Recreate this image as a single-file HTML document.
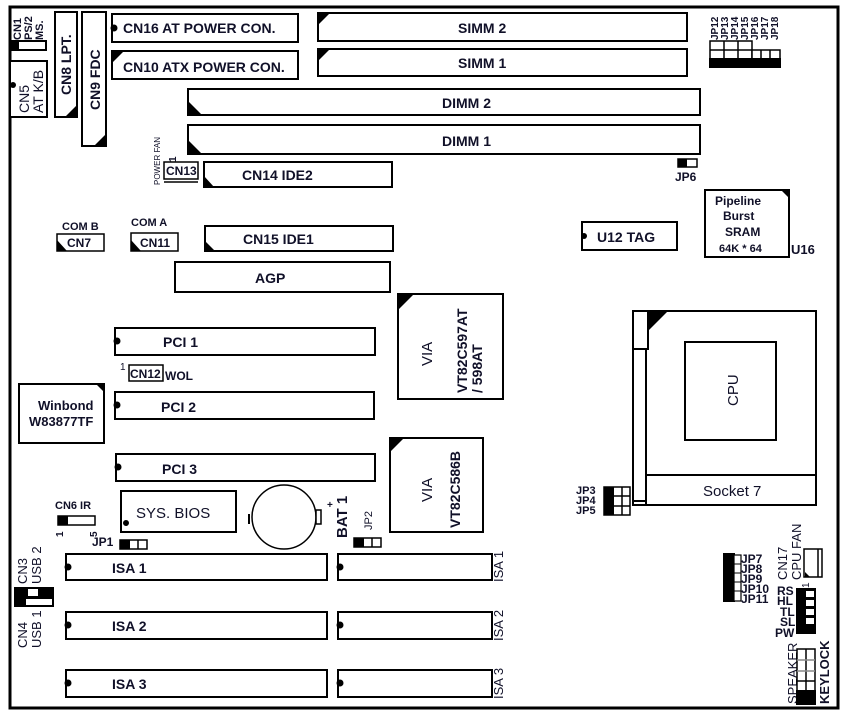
<!DOCTYPE html>
<html><head><meta charset="utf-8"><style>
html,body{margin:0;padding:0;background:#fff;width:846px;height:722px;overflow:hidden}
svg{display:block}
text{font-family:"Liberation Sans",Arial,sans-serif;font-weight:bold;fill:#101028}
.b{fill:#fff;stroke:#000;stroke-width:2}
.k{fill:#000}
.t14{font-size:14px}
.t12{font-size:12px}
.t11{font-size:11px}
.t10{font-size:10px}
.n{font-weight:normal}
</style></head><body>
<svg width="846" height="722" viewBox="0 0 846 722" xmlns="http://www.w3.org/2000/svg">
<rect x="10" y="7" width="828" height="701" fill="#fff" stroke="#000" stroke-width="3"/>

<text class="t11" transform="translate(21,40) rotate(-90)">CN1</text>
<text class="t11" transform="translate(32,40) rotate(-90)">PS/2</text>
<text class="t11" transform="translate(43,40) rotate(-90)">MS.</text>
<rect class="b" x="11" y="41" width="35" height="9"/>
<rect class="k" x="11" y="41" width="8" height="9"/>
<rect class="b" x="10" y="61" width="37" height="56"/>
<circle class="k" cx="13" cy="85" r="3"/>
<text class="t14 n" transform="translate(29,113) rotate(-90)">CN5</text>
<text class="t14 n" transform="translate(43,113) rotate(-90)">AT K/B</text>
<rect class="b" x="55" y="12" width="22" height="105"/>
<polygon class="k" points="77,105 77,117 65,117"/>
<text class="t14" transform="translate(71,95) rotate(-90)">CN8 LPT.</text>
<rect class="b" x="82" y="12" width="24" height="134"/>
<polygon class="k" points="106,134 106,146 94,146"/>
<text class="t14" transform="translate(100,110) rotate(-90)">CN9 FDC</text>
<rect class="b" x="112" y="14" width="186" height="28"/>
<circle class="k" cx="114" cy="28" r="3.5"/>
<text class="t14" x="123" y="33">CN16 AT POWER CON.</text>
<rect class="b" x="112" y="51" width="186" height="28"/>
<polygon class="k" points="112,51 124,51 112,63"/>
<text class="t14" x="123" y="72">CN10 ATX POWER CON.</text>
<rect class="b" x="318" y="13" width="369" height="28"/>
<polygon class="k" points="318,13 330,13 318,25"/>
<text class="t14" x="458" y="33">SIMM 2</text>
<rect class="b" x="318" y="49" width="369" height="27"/>
<polygon class="k" points="318,49 330,49 318,61"/>
<text class="t14" x="458" y="68">SIMM 1</text>
<rect class="b" x="188" y="89" width="512" height="26"/>
<polygon class="k" points="188,101 188,115 202,115"/>
<text class="t14" x="442" y="108">DIMM 2</text>
<rect class="b" x="188" y="125" width="512" height="29"/>
<polygon class="k" points="188,140 188,154 202,154"/>
<text class="t14" x="442" y="146">DIMM 1</text>
<text class="t10" transform="translate(718,40) rotate(-90)">JP12</text>
<text class="t10" transform="translate(728,40) rotate(-90)">JP13</text>
<text class="t10" transform="translate(738,40) rotate(-90)">JP14</text>
<text class="t10" transform="translate(748,40) rotate(-90)">JP15</text>
<text class="t10" transform="translate(758,40) rotate(-90)">JP16</text>
<text class="t10" transform="translate(768,40) rotate(-90)">JP17</text>
<text class="t10" transform="translate(778,40) rotate(-90)">JP18</text>
<rect class="b" x="710" y="41" width="42" height="18" style="stroke-width:1.5"/>
<line x1="724" y1="41" x2="724" y2="59" stroke="#000" stroke-width="1.5"/>
<line x1="738" y1="41" x2="738" y2="59" stroke="#000" stroke-width="1.5"/>
<line x1="710" y1="50" x2="752" y2="50" stroke="#000" stroke-width="1.5"/>
<rect class="b" x="752" y="50" width="28" height="9" style="stroke-width:1.5"/>
<line x1="761" y1="50" x2="761" y2="59" stroke="#000" stroke-width="1.5"/>
<line x1="770" y1="50" x2="770" y2="59" stroke="#000" stroke-width="1.5"/>
<rect class="k" x="709" y="58" width="72" height="10"/>
<rect class="b" x="678" y="159" width="19" height="8" style="stroke-width:1.5"/>
<rect class="k" x="678" y="159" width="9" height="8"/>
<text class="t12" x="675" y="181">JP6</text>
<rect class="b" x="705" y="190" width="84" height="67"/>
<polygon class="k" points="781,190 789,190 789,198"/>
<text class="t12" x="715" y="205">Pipeline</text>
<text class="t12" x="723" y="220">Burst</text>
<text class="t12" x="725" y="236">SRAM</text>
<text class="t11" x="719" y="252">64K * 64</text>
<text x="791" y="254" style="font-size:13px">U16</text>
<text transform="translate(160,185) rotate(-90)" style="font-size:8px;font-weight:normal">POWER FAN</text>
<text class="t10" transform="translate(176,162) rotate(-90)">1</text>
<rect class="b" x="164" y="162" width="34" height="17" style="stroke-width:1.5"/>
<line x1="164" y1="182" x2="198" y2="182" stroke="#000" stroke-width="1.5"/>
<text class="t12" x="166" y="175">CN13</text>
<rect class="b" x="204" y="162" width="188" height="25"/>
<polygon class="k" points="204,176 204,187 214,187"/>
<text class="t14" x="242" y="180">CN14 IDE2</text>
<text class="t11" x="62" y="230">COM B</text>
<rect class="b" x="57" y="234" width="47" height="17" style="stroke-width:1.5"/>
<polygon class="k" points="57,240 57,251 67,251"/>
<text class="t12" x="67" y="247">CN7</text>
<text class="t11" x="131" y="226">COM A</text>
<rect class="b" x="131" y="233" width="47" height="18" style="stroke-width:1.5"/>
<polygon class="k" points="131,240 131,251 141,251"/>
<text class="t12" x="140" y="247">CN11</text>
<rect class="b" x="205" y="226" width="188" height="25"/>
<polygon class="k" points="205,241 205,251 215,251"/>
<text class="t14" x="243" y="244">CN15 IDE1</text>
<rect class="b" x="582" y="222" width="95" height="28"/>
<circle class="k" cx="584" cy="236" r="3"/>
<text class="t14" x="597" y="242">U12 TAG</text>
<rect class="b" x="175" y="262" width="215" height="30"/>
<text class="t14" x="255" y="283">AGP</text>
<rect class="b" x="398" y="294" width="105" height="105"/>
<polygon class="k" points="398,294 414,294 398,310"/>
<text transform="translate(432,366) rotate(-90)" style="font-weight:normal;font-size:15px">VIA</text>
<text class="t14" transform="translate(467,393) rotate(-90)">VT82C597AT</text>
<text class="t14" transform="translate(482,393) rotate(-90)">/ 598AT</text>
<rect class="b" x="115" y="328" width="260" height="27"/>
<circle class="k" cx="117" cy="341" r="3.5"/>
<text class="t14" x="163" y="347">PCI 1</text>
<text class="t10 n" x="120" y="370">1</text>
<rect class="b" x="129" y="365" width="34" height="16" style="stroke-width:1.5"/>
<text class="t12" x="130" y="378">CN12</text>
<text class="t12" x="165" y="380">WOL</text>
<rect class="b" x="115" y="392" width="259" height="27"/>
<circle class="k" cx="117" cy="405" r="3.5"/>
<text class="t14" x="161" y="412">PCI 2</text>
<rect class="b" x="116" y="454" width="259" height="27"/>
<circle class="k" cx="118" cy="467" r="3.5"/>
<text class="t14" x="162" y="474">PCI 3</text>
<rect class="b" x="19" y="384" width="85" height="59"/>
<polygon class="k" points="96,384 104,384 104,392"/>
<text x="38" y="410" style="font-size:13px">Winbond</text>
<text x="29" y="426" style="font-size:13px">W83877TF</text>
<rect class="b" x="390" y="438" width="93" height="94"/>
<polygon class="k" points="390,438 404,438 390,452"/>
<text transform="translate(432,502) rotate(-90)" style="font-size:15px;font-weight:normal">VIA</text>
<text class="t14" transform="translate(460,528) rotate(-90)">VT82C586B</text>
<rect class="b" x="633" y="311" width="183" height="194"/>
<rect class="b" x="633" y="311" width="15" height="38"/>
<rect class="b" x="633" y="349" width="13" height="152"/>
<polygon class="k" points="648,311 668,311 648,331"/>
<rect class="b" x="685" y="342" width="91" height="98"/>
<text transform="translate(738,406) rotate(-90)" style="font-weight:normal;font-size:15px">CPU</text>
<rect class="b" x="646" y="475" width="170" height="30"/>
<text x="703" y="496" style="font-weight:normal;font-size:15px">Socket  7</text>
<text class="t11" x="576" y="494">JP3</text>
<text class="t11" x="576" y="504">JP4</text>
<text class="t11" x="576" y="514">JP5</text>
<rect class="b" x="604" y="487" width="26" height="28" style="stroke-width:1.5"/>
<rect class="k" x="604" y="487" width="10" height="28"/>
<line x1="622" y1="487" x2="622" y2="515" stroke="#000" stroke-width="1.5"/>
<line x1="604" y1="496" x2="630" y2="496" stroke="#000" stroke-width="1.5"/>
<line x1="604" y1="506" x2="630" y2="506" stroke="#000" stroke-width="1.5"/>
<text class="t11" x="55" y="509">CN6  IR</text>
<rect class="b" x="58" y="516" width="37" height="9" style="stroke-width:1.5"/>
<rect class="k" x="58" y="516" width="10" height="9"/>
<text class="t10" transform="translate(63,537) rotate(-90)">1</text>
<text class="t10" transform="translate(97,537) rotate(-90)">5</text>
<rect class="b" x="121" y="491" width="115" height="41"/>
<circle class="k" cx="126" cy="523" r="3"/>
<text x="136" y="518" style="font-weight:normal;font-size:15px">SYS.  BIOS</text>
<text class="t12" x="92" y="546">JP1</text>
<rect class="b" x="120" y="540" width="27" height="9" style="stroke-width:1.5"/>
<rect class="k" x="120" y="540" width="10" height="9"/>
<line x1="138" y1="540" x2="138" y2="549" stroke="#000" stroke-width="1.5"/>
<circle cx="284" cy="517" r="32" fill="#fff" stroke="#000" stroke-width="1.5"/>
<rect class="k" x="248" y="514" width="2" height="10"/>
<rect class="b" x="316" y="510" width="5" height="14" style="stroke-width:1.5"/>
<text class="t10" x="327" y="508">+</text>
<text transform="translate(347,538) rotate(-90)" style="font-size:15px">BAT 1</text>
<text class="t11" transform="translate(372,530) rotate(-90)" style="font-weight:normal">JP2</text>
<rect class="b" x="354" y="538" width="27" height="9" style="stroke-width:1.5"/>
<rect class="k" x="354" y="538" width="10" height="9"/>
<line x1="372" y1="538" x2="372" y2="547" stroke="#000" stroke-width="1.5"/>
<rect class="b" x="66" y="554" width="261" height="26"/>
<circle class="k" cx="68" cy="567" r="3.5"/>
<text class="t14" x="112" y="573">ISA 1</text>
<rect class="b" x="338" y="554" width="154" height="26"/>
<circle class="k" cx="340" cy="567" r="3.5"/>
<text transform="translate(503,582) rotate(-90)" style="font-weight:normal;font-size:13px">ISA 1</text>
<rect class="b" x="66" y="612" width="261" height="27"/>
<circle class="k" cx="68" cy="625" r="3.5"/>
<text class="t14" x="112" y="631">ISA 2</text>
<rect class="b" x="338" y="612" width="154" height="27"/>
<circle class="k" cx="340" cy="625" r="3.5"/>
<text transform="translate(503,641) rotate(-90)" style="font-weight:normal;font-size:13px">ISA 2</text>
<rect class="b" x="66" y="670" width="261" height="27"/>
<circle class="k" cx="68" cy="683" r="3.5"/>
<text class="t14" x="112" y="689">ISA 3</text>
<rect class="b" x="338" y="670" width="154" height="27"/>
<circle class="k" cx="340" cy="683" r="3.5"/>
<text transform="translate(503,699) rotate(-90)" style="font-weight:normal;font-size:13px">ISA 3</text>
<text transform="translate(27,584) rotate(-90)" style="font-weight:normal;font-size:13px">CN3</text>
<text transform="translate(41,584) rotate(-90)" style="font-weight:normal;font-size:13px">USB 2</text>
<rect class="k" x="14" y="587" width="40" height="20"/>
<rect x="26" y="599" width="26" height="6" fill="#fff"/>
<rect x="28" y="589" width="10" height="7" fill="#fff"/>
<text transform="translate(27,648) rotate(-90)" style="font-weight:normal;font-size:13px">CN4</text>
<text transform="translate(41,648) rotate(-90)" style="font-weight:normal;font-size:13px">USB 1</text>
<text transform="translate(787,580) rotate(-90)" style="font-weight:normal;font-size:13px">CN17</text>
<text transform="translate(801,580) rotate(-90)" style="font-weight:normal;font-size:13px">CPU FAN</text>
<rect class="b" x="804" y="549" width="18" height="28" style="stroke-width:1.5"/>
<line x1="818" y1="549" x2="818" y2="577" stroke="#000" stroke-width="1.5"/>
<polygon class="k" points="805,572 805,577 810,577"/>
<text class="t10 n" transform="translate(809,588) rotate(-90)">1</text>
<rect class="k" x="723" y="553" width="12" height="49"/>
<rect class="b" x="734" y="555" width="7" height="46" style="stroke-width:1.2"/>
<line x1="734" y1="564" x2="741" y2="564" stroke="#000"/><line x1="734" y1="573" x2="741" y2="573" stroke="#000"/>
<line x1="734" y1="582" x2="741" y2="582" stroke="#000"/><line x1="734" y1="591" x2="741" y2="591" stroke="#000"/>
<text class="t12" x="741" y="563">JP7</text>
<text class="t12" x="741" y="573">JP8</text>
<text class="t12" x="741" y="583">JP9</text>
<text class="t12" x="741" y="593">JP10</text>
<text class="t12" x="741" y="603">JP11</text>
<text class="t12" x="777" y="595">RS</text>
<text class="t12" x="777" y="605">HL</text>
<text class="t12" x="780" y="616">TL</text>
<text class="t12" x="780" y="626">SL</text>
<text class="t12" x="775" y="637">PW</text>
<rect class="k" x="796" y="588" width="20" height="46"/>
<rect x="806" y="591" width="8" height="6" fill="#fff"/>
<rect x="806" y="600" width="8" height="6" fill="#fff"/>
<rect x="806" y="609" width="8" height="6" fill="#fff"/>
<rect x="806" y="618" width="8" height="6" fill="#fff"/>
<text transform="translate(797,704) rotate(-90)" style="font-weight:normal;font-size:13px">SPEAKER</text>
<text transform="translate(829,704) rotate(-90)" style="font-size:13px">KEYLOCK</text>
<rect class="b" x="797" y="649" width="18" height="55" style="stroke-width:1.5"/>
<line x1="806" y1="649" x2="806" y2="690" stroke="#000" stroke-width="1.5"/>
<line x1="797" y1="660" x2="815" y2="660" stroke="#888" stroke-width="1.5"/>
<line x1="797" y1="671" x2="815" y2="671" stroke="#888" stroke-width="1.5"/>
<line x1="797" y1="681" x2="815" y2="681" stroke="#000" stroke-width="1.5"/>
<rect class="k" x="796" y="690" width="20" height="15"/>
</svg>
</body></html>
